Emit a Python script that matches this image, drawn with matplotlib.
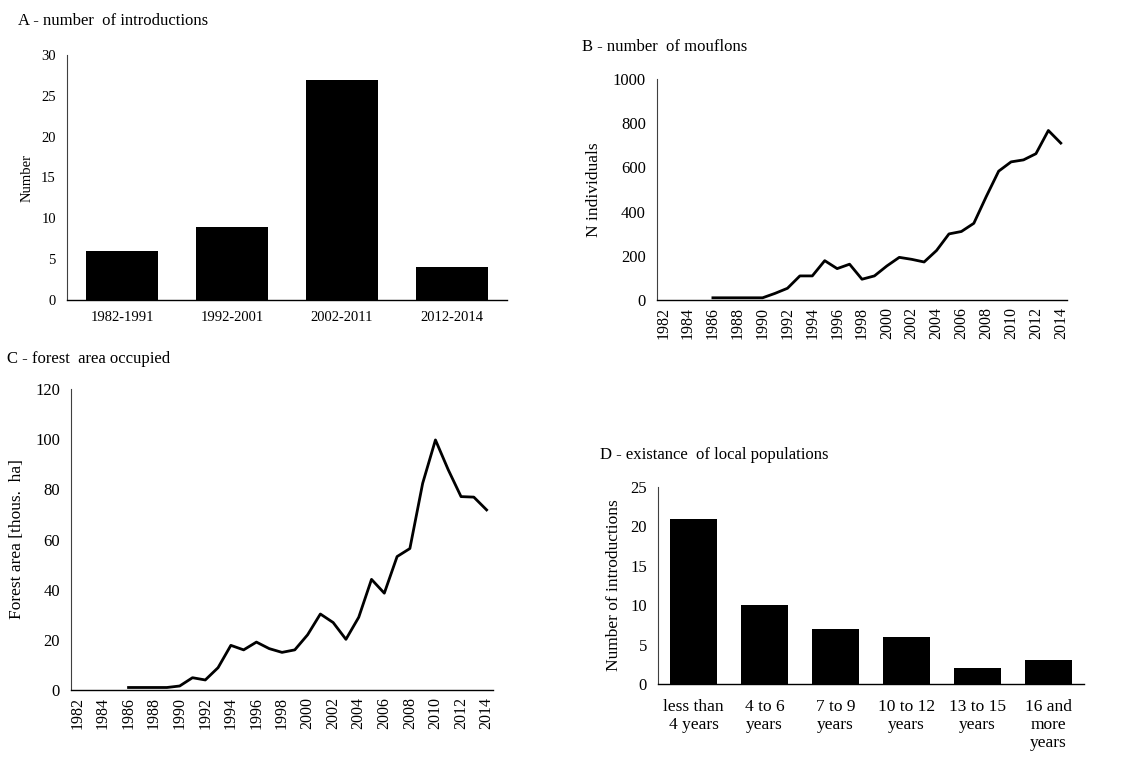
import matplotlib.pyplot as plt

plt.rcParams['font.family'] = ['Liberation Serif', 'DejaVu Serif']

# ---- data ----
periods = ['1982-1991', '1992-2001', '2002-2011', '2012-2014']
introductions = [6, 9, 27, 4]

years = list(range(1982, 2015))
mouflon_years = list(range(1986, 2015))
mouflons = [10, 10, 10, 10, 10, 30, 53, 109, 109, 178, 142, 162, 94, 109, 154,
            193, 184, 172, 224, 299, 310, 347, 468, 583, 625, 634, 662, 767, 710]
forest_area = [1, 1, 1, 1, 1.6, 4.9, 4, 8.9, 17.8, 16, 19.1, 16.5, 15, 16, 22,
               30.3, 26.9, 20.2, 29, 44.1, 38.6, 53.2, 56.4, 82.4, 99.7, 87.8,
               77.1, 76.9, 71.8]

duration_cats = ['less than\n4 years', '4 to 6\nyears', '7 to 9\nyears',
                 '10 to 12\nyears', '13 to 15\nyears', '16 and\nmore\nyears']
duration_counts = [21, 10, 7, 6, 2, 3]

W, H = 1124, 757
fig = plt.figure(figsize=(W / 100, H / 100), dpi=100)


def px_axes(x0, y0, x1, y1):
    return fig.add_axes([x0 / W, 1 - y1 / H, (x1 - x0) / W, (y1 - y0) / H])


def style(ax, fs):
    for s in ['top', 'right']:
        ax.spines[s].set_visible(False)
    ax.spines['left'].set_color('#404040')
    ax.spines['left'].set_linewidth(0.8)
    ax.spines['bottom'].set_color('black')
    ax.spines['bottom'].set_linewidth(1.0)
    ax.tick_params(length=0, labelsize=fs, colors='black')
    ax.tick_params(axis='y', pad=8)


# --- A ---
axA = px_axes(67, 55, 507, 300)
axA.bar(range(len(periods)), introductions, width=0.66, color='black')
axA.set_xlim(-0.5, len(periods) - 0.5)
axA.set_ylim(0, 30)
axA.set_yticks(range(0, 31, 5))
axA.set_xticks(range(len(periods)))
axA.set_xticklabels(periods)
style(axA, 10.5)
axA.tick_params(axis='x', pad=8)
axA.set_ylabel('Number', fontsize=10.5)
axA.yaxis.set_label_coords(-0.077, 0.5)
fig.text(18 / W, 1 - 21 / H, 'A - number  of introductions', fontsize=12,
         va='center', ha='left')

# --- B ---
axB = px_axes(657, 79, 1067, 300)
xi = [years.index(y) for y in mouflon_years]
axB.plot(xi, mouflons, color='black', lw=2)
axB.set_xlim(-0.5, len(years) - 0.5)
axB.set_ylim(0, 1000)
axB.set_yticks(range(0, 1001, 200))
axB.set_xticks(range(0, len(years), 2))
axB.set_xticklabels([str(y) for y in years[::2]], rotation=90)
style(axB, 12)
axB.tick_params(axis='x', pad=5, labelsize=11.5)
axB.set_ylabel('N individuals', fontsize=12.5)
axB.yaxis.set_label_coords(-0.134, 0.5)
fig.text(582 / W, 1 - 47 / H, 'B - number  of mouflons', fontsize=12,
         va='center', ha='left')

# --- C ---
axC = px_axes(71, 389, 493, 690)
axC.plot(xi, forest_area, color='black', lw=2)
axC.set_xlim(-0.5, len(years) - 0.5)
axC.set_ylim(0, 120)
axC.set_yticks(range(0, 121, 20))
axC.set_xticks(range(0, len(years), 2))
axC.set_xticklabels([str(y) for y in years[::2]], rotation=90)
style(axC, 12)
axC.tick_params(axis='x', pad=5, labelsize=11.5)
axC.set_ylabel('Forest area [thous.  ha]', fontsize=12.5)
axC.yaxis.set_label_coords(-0.109, 0.5)
fig.text(7 / W, 1 - 359 / H, 'C - forest  area occupied', fontsize=12,
         va='center', ha='left')

# --- D ---
axD = px_axes(658, 487, 1084, 684)
axD.bar(range(len(duration_cats)), duration_counts, width=0.66, color='black')
axD.set_xlim(-0.5, len(duration_cats) - 0.5)
axD.set_ylim(0, 25)
axD.set_yticks(range(0, 26, 5))
axD.set_xticks(range(len(duration_cats)))
axD.set_xticklabels(duration_cats, linespacing=1.15)
style(axD, 12)
axD.tick_params(axis='x', pad=11, labelsize=12.5)
axD.set_ylabel('Number of introductions', fontsize=12.5)
axD.yaxis.set_label_coords(-0.085, 0.5)
fig.text(600 / W, 1 - 455 / H, 'D - existance  of local populations',
         fontsize=12, va='center', ha='left')

fig.savefig('out.png', dpi=100)
